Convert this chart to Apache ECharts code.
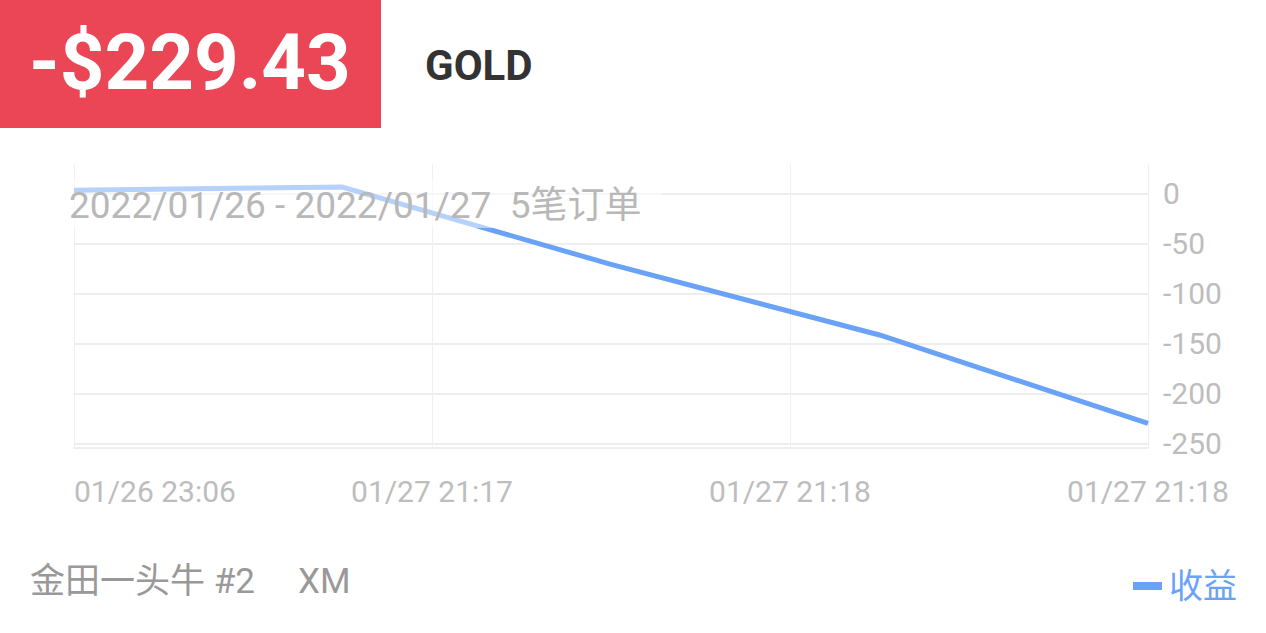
<!DOCTYPE html>
<html>
<head>
<meta charset="utf-8">
<script src="https://cdn.jsdelivr.net/npm/echarts@6/dist/echarts.min.js"></script>
<style>
html,body{margin:0;padding:0;background:#fff;}
#chart{width:1266px;height:633px;}
</style>
</head>
<body>
<div id="chart"></div>
<script>
// Data
const orderTimes = ["01/26 23:06", "01/27 21:17", "01/27 21:18", "01/27 21:18", "01/27 21:18"];
const profitValues = [3.2, 6.4, -70.8, -141.2, -229.43];
const xTickLabels = ["01/26 23:06", "01/27 21:17", "01/27 21:18", "01/27 21:18"];
const totalText = "-$229.43";
const symbolText = "GOLD";
const rangeText = "2022/01/26 - 2022/01/27  5笔订单";
const accountText = "金田一头牛 #2";
const brokerText = "XM";
const seriesName = "收益";

const FONT = 'Roboto, "Noto Sans CJK SC", sans-serif';
const BLUE = '#6AA2F8';
const GRAY = '#BDBDBD';

const chart = echarts.init(document.getElementById('chart'), null, {renderer: 'svg'});
chart.setOption({
  backgroundColor: '#fff',
  animation: false,
  textStyle: {fontFamily: FONT},
  grid: {left: 74, right: 118, top: 164, bottom: 185},
  legend: {
    data: [seriesName],
    right: 24, top: 564,
    icon: 'rect', itemWidth: 29, itemHeight: 8,
    textStyle: {color: BLUE, fontSize: 34, fontFamily: FONT, padding: [0, 0, 0, 2]},
    selectedMode: false
  },
  xAxis: [
    {
      type: 'category', data: orderTimes, boundaryGap: false, show: false
    },
    {
      type: 'value', min: 0, max: 3, interval: 1, position: 'bottom',
      axisLine: {show: true, lineStyle: {color: '#EEEEEE', width: 2}},
      axisTick: {show: false},
      axisLabel: {
        color: GRAY, fontSize: 30, fontFamily: FONT, margin: 28,
        alignMinLabel: 'left',
        formatter: v => xTickLabels[Math.round(v)]
      },
      splitLine: {show: true, lineStyle: {color: '#F0F0F0', width: 1}}
    }
  ],
  yAxis: {
    type: 'value', position: 'right', min: -254, max: 29.4,
    splitNumber: 5, minInterval: 50, maxInterval: 50,
    axisLine: {show: false}, axisTick: {show: false},
    axisLabel: {color: GRAY, fontSize: 30, fontFamily: FONT, margin: 15,
      showMinLabel: false, showMaxLabel: false},
    splitLine: {show: true, showMinLine: false, showMaxLine: false,
      lineStyle: {color: '#EEEEEE', width: 2}}
  },
  series: [{
    name: seriesName, type: 'line', xAxisIndex: 0, data: profitValues,
    symbol: 'none', smooth: false,
    lineStyle: {color: BLUE, width: 5}, itemStyle: {color: BLUE}
  }],
  graphic: [
    {type: 'rect', left: 0, top: 0, shape: {width: 381, height: 128}, style: {fill: '#EB4656'}, z: 10},
    {type: 'text', left: 29, top: 23, z: 11,
      style: {text: totalText, fill: '#fff', font: 'bold 78px Roboto, sans-serif'}},
    {type: 'text', left: 425, top: 44, z: 11,
      style: {text: symbolText, fill: '#333', font: 'bold 42px Roboto, sans-serif'}},
    {type: 'rect', left: 62, top: 180, shape: {width: 600, height: 48},
      style: {fill: 'rgba(255,255,255,0.5)'}, z: 20},
    {type: 'text', left: 69, top: 187, z: 21,
      style: {text: rangeText, fill: '#B8B8B8', font: '37px Roboto, "Noto Sans CJK SC", sans-serif'}},
    {type: 'text', left: 30, top: 564, z: 11,
      style: {text: accountText, fill: '#999', font: '35px Roboto, "Noto Sans CJK SC", sans-serif'}},
    {type: 'text', left: 298, top: 564, z: 11,
      style: {text: brokerText, fill: '#999', font: '35px Roboto, "Noto Sans CJK SC", sans-serif'}}
  ]
});
</script>
</body>
</html>
